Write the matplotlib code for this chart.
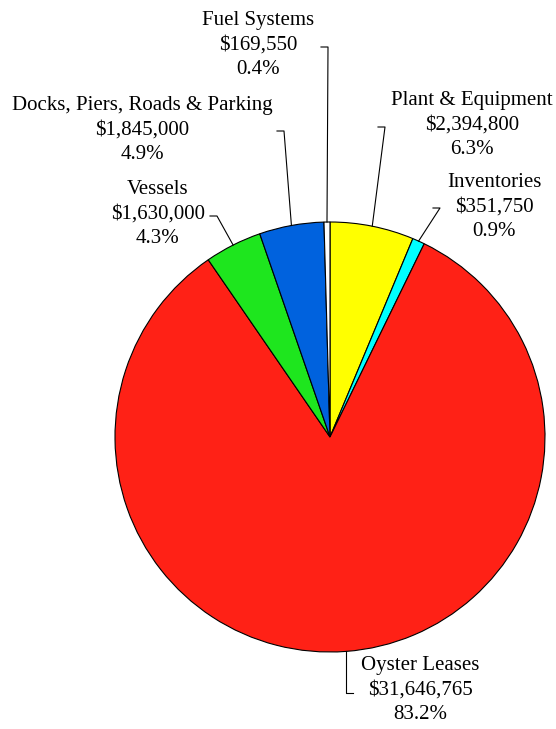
import numpy as np
import matplotlib
matplotlib.use("Agg")
import matplotlib.pyplot as plt

# Asset categories (clockwise from 12 o'clock) and their dollar values
categories = ["Plant & Equipment", "Inventories", "Oyster Leases", "Vessels",
              "Docks, Piers, Roads & Parking", "Fuel Systems"]
values = [2394800, 351750, 31646765, 1630000, 1845000, 169550]
colors = ["#FFFF00", "#00FFFF", "#FF2116", "#1EE61E", "#0062DE", "#FFFFFF"]

W, H = 556, 729
fig = plt.figure(figsize=(W / 100, H / 100), dpi=100)
ax = fig.add_axes([0, 0, 1, 1])

cx, cy, r = 330, H - 437, 215
wedges, _ = ax.pie(values, colors=colors, startangle=90, counterclock=False,
                   center=(cx, cy), radius=r, frame=True,
                   wedgeprops=dict(edgecolor="black", linewidth=0.8))
ax.set_xlim(0, W)
ax.set_ylim(0, H)
ax.set_aspect("equal")
ax.axis("off")

total = sum(values)

# label block centre and leader elbow, in pixels from the top-left corner
label_pos = {
    "Plant & Equipment": (472, 125, 385, 127, "left"),
    "Inventories": (494, 207, 440, 208, "left"),
    "Oyster Leases": (420, 690, 346, 693, "bottom"),
    "Vessels": (158, 214, 217, 216, "right"),
    "Docks, Piers, Roads & Parking": (142, 130, 284, 131, "right"),
    "Fuel Systems": (258, 45, 328, 47, "right"),
}

font = dict(family="Liberation Serif", size=15)

for w, name, val in zip(wedges, categories, values):
    tx, ty, ex, ey, side = label_pos[name]
    pct = 100 * val / total
    ax.text(tx, H - ty, f"{name}\n${val:,.0f}\n{pct:.1f}%", ha="center", va="center",
            linespacing=1.42, **font)
    ang = np.deg2rad((w.theta1 + w.theta2) / 2)
    px, py = cx + r * np.cos(ang), cy + r * np.sin(ang)
    if side == "bottom":
        ax.plot([px, px, ex + 7], [py, H - ey, H - ey], color="black", lw=0.8)
    else:
        ax.plot([px, ex, ex - 7], [py, H - ey, H - ey], color="black", lw=0.8)

fig.savefig("out.png", dpi=100, facecolor="white")
